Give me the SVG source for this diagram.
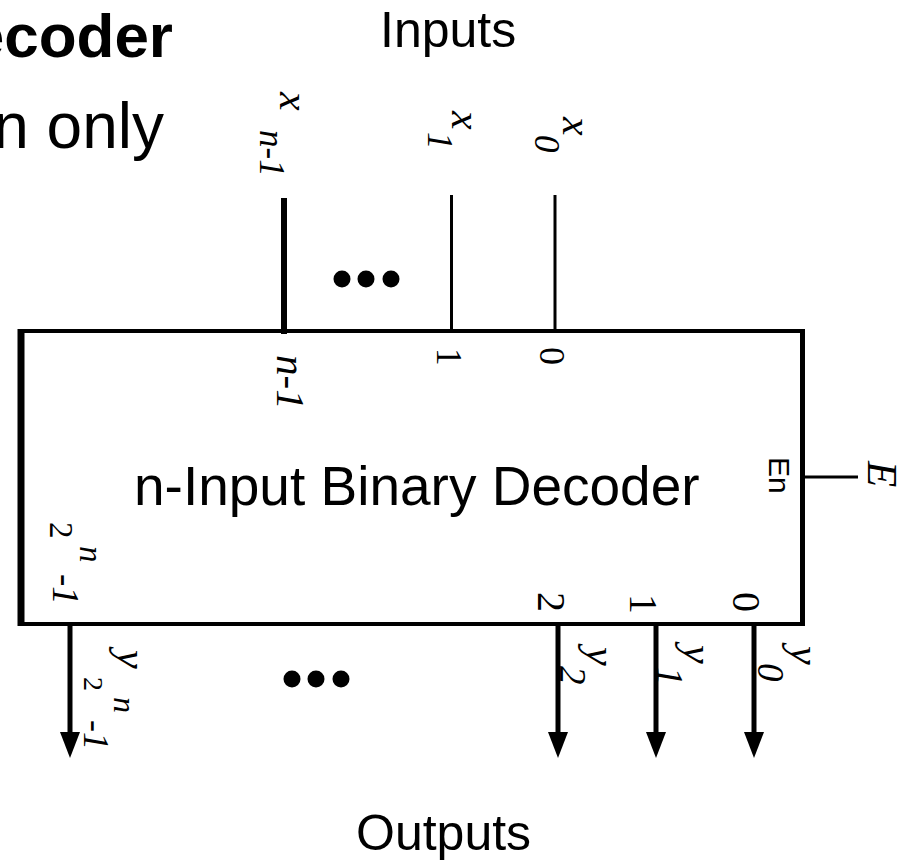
<svg xmlns="http://www.w3.org/2000/svg" width="911" height="861" viewBox="0 0 911 861">
<style>
.sans{font-family:"Liberation Sans",Arial,sans-serif;fill:#000}
.ser{font-family:"Liberation Serif","Times New Roman",serif;fill:#000}
.it{font-style:italic}
.w{stroke:#000;fill:none;stroke-linecap:butt}
.head{fill:#000;stroke:none}
.dot{fill:#000}
</style>
<rect width="911" height="861" fill="#fff"/>
<g id="title">
<text class="sans" x="173" y="57" font-size="62" font-weight="bold" text-anchor="end">Decoder</text>
<text class="sans" x="164" y="148" font-size="64" text-anchor="end">n only</text>
</g>
<g id="inputs-label"><text class="sans" x="380" y="47" font-size="50">Inputs</text></g>
<g id="outputs-label"><text class="sans" x="356" y="850" font-size="50">Outputs</text></g>
<g id="decoder">
<rect class="w" x="21" y="331" width="781.5" height="293" stroke-width="4"/>
<line class="w" x1="21" y1="329" x2="21" y2="626" stroke-width="7"/>
<line class="w" x1="802.5" y1="329" x2="802.5" y2="626" stroke-width="5"/>
<text class="sans" x="134" y="505" font-size="55">n-Input Binary Decoder</text>
<g transform="translate(277,355) rotate(90)"><text class="ser it" font-size="41">n-1</text></g>
<g transform="translate(437,348) rotate(90)"><text class="ser" font-size="35">1</text></g>
<g transform="translate(540,347) rotate(90)"><text class="ser" font-size="36">0</text></g>
<g transform="translate(769,457) rotate(90)"><text class="sans" font-size="30">En</text></g>
<g transform="translate(50,522) rotate(90)"><text class="ser" font-size="33">2</text><text class="ser it" x="24" y="-30" font-size="33">n</text><text class="ser it" x="52" y="-3" font-size="37">-1</text></g>
<g transform="translate(538,592) rotate(90)"><text class="ser" font-size="40">2</text></g>
<g transform="translate(630,594) rotate(90)"><text class="ser" font-size="40">1</text></g>
<g transform="translate(733,592) rotate(90)"><text class="ser" font-size="40">0</text></g>
</g>
<g id="in-xn1"><g transform="translate(280,92) rotate(90)"><text class="ser it" font-size="42">x</text><text class="ser it" x="38" y="20" font-size="35">n-1</text></g></g>
<g id="in-x1"><g transform="translate(452,111) rotate(90)"><text class="ser it" font-size="42">x</text><text class="ser it" x="21" y="24" font-size="35">1</text></g></g>
<g id="in-x0"><g transform="translate(563,117) rotate(90)"><text class="ser it" font-size="42">x</text><text class="ser it" x="18" y="28" font-size="35">0</text></g></g>
<g id="in-E"><g transform="translate(868,461) rotate(90)"><text class="ser it" font-size="43">E</text></g></g>
<g id="out-y2n1"><g transform="translate(118,650) rotate(90)"><text class="ser it" font-size="42">y</text><text class="ser" x="27" y="34" font-size="28">2</text><text class="ser it" x="47" y="4" font-size="32">n</text><text class="ser it" x="70" y="34" font-size="36">-1</text></g></g>
<g id="out-y2"><g transform="translate(587,647) rotate(90)"><text class="ser it" font-size="42">y</text><text class="ser it" x="19" y="27" font-size="37">2</text></g></g>
<g id="out-y1"><g transform="translate(684,645) rotate(90)"><text class="ser it" font-size="42">y</text><text class="ser it" x="22" y="27" font-size="37">1</text></g></g>
<g id="out-y0"><g transform="translate(791,646) rotate(90)"><text class="ser it" font-size="42">y</text><text class="ser it" x="17" y="33" font-size="37">0</text></g></g>
<g id="ellipsis-in"><circle class="dot" cx="342" cy="279" r="8.5"/><circle class="dot" cx="366" cy="279" r="8.5"/><circle class="dot" cx="391" cy="279" r="8.5"/></g>
<g id="ellipsis-out"><circle class="dot" cx="292" cy="679" r="8.5"/><circle class="dot" cx="316" cy="679" r="8.5"/><circle class="dot" cx="341" cy="679" r="8.5"/></g>
<g id="connectors">
<line class="w" x1="284" y1="198" x2="284" y2="334" stroke-width="6"/>
<line class="w" x1="451.5" y1="195" x2="451.5" y2="331" stroke-width="3"/>
<line class="w" x1="555" y1="195" x2="555" y2="331" stroke-width="3"/>
<line class="w" x1="805" y1="477" x2="858" y2="477" stroke-width="3"/>
<line class="w" x1="70" y1="625" x2="70" y2="736" stroke-width="5"/>
<polygon class="head" points="60,732 80,732 70,758"/>
<line class="w" x1="558" y1="625" x2="558" y2="736" stroke-width="5"/>
<polygon class="head" points="548,732 568,732 558,758"/>
<line class="w" x1="656" y1="625" x2="656" y2="736" stroke-width="5"/>
<polygon class="head" points="646,732 666,732 656,758"/>
<line class="w" x1="754" y1="625" x2="754" y2="736" stroke-width="5"/>
<polygon class="head" points="744,732 764,732 754,758"/>
</g>
</svg>
